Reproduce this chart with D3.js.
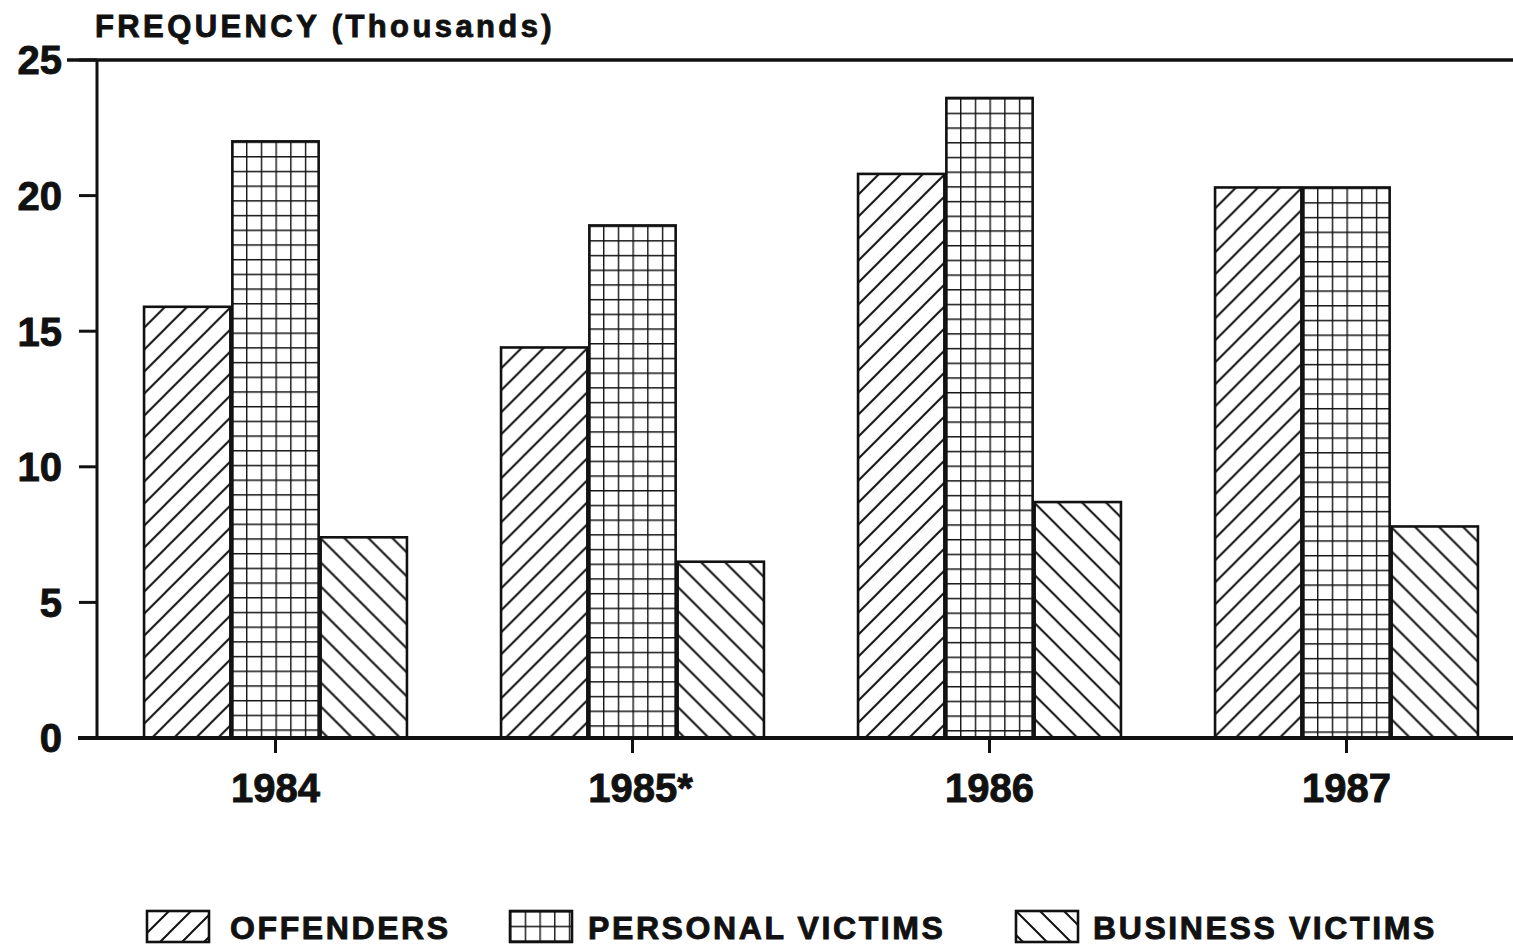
<!DOCTYPE html>
<html>
<head>
<meta charset="utf-8">
<script src="https://cdn.jsdelivr.net/npm/d3@7"></script>
<style>
	body { margin: 0; background: #fff; }
	text { font-family: 'Liberation Sans', Arial, sans-serif; font-weight: bold; fill: #111; stroke: #111; stroke-width: 0.9; }
</style>
</head>
<body>
<svg id="canvas" width="1513" height="948"></svg>
<script>
var years = ['1984', '1985*', '1986', '1987'];
var seriesNames = ['OFFENDERS', 'PERSONAL VICTIMS', 'BUSINESS VICTIMS'];
var offenders = [15.9, 14.4, 20.8, 20.3];
var personalVictims = [22.0, 18.9, 23.6, 20.3];
var businessVictims = [7.4, 6.5, 8.7, 7.8];
var yTicks = [0, 5, 10, 15, 20, 25];

var svg = d3.select('#canvas');
var defs = svg.append('defs');

var x0 = d3.scaleBand().domain(years).range([97, 1525]).paddingInner(0.258).paddingOuter(0.129);
var x1 = d3.scaleBand().domain(seriesNames).range([0, x0.bandwidth()]);
var y = d3.scaleLinear().domain([0, 25]).range([738, 60]);

var fills = ['slash', 'grid', 'back'];
var values = [offenders, personalVictims, businessVictims];

// one pattern per bar so the hatching starts at the bar corner
function makePattern(id, kind, px, py){
	var p, s;
	if (kind == 'grid') {
		s = 14.7;
		p = defs.append('pattern').attr('id', id).attr('patternUnits', 'userSpaceOnUse')
			.attr('x', px).attr('y', py).attr('width', s).attr('height', s);
		p.append('rect').attr('width', s).attr('height', s).attr('fill', '#fff');
		p.append('path').attr('d', 'M 0 0 H ' + s + ' M 0 0 V ' + s)
			.attr('stroke', '#111').attr('stroke-width', 2.8).attr('fill', 'none');
	} else {
		s = kind == 'slash' ? 22 : 24;
		p = defs.append('pattern').attr('id', id).attr('patternUnits', 'userSpaceOnUse')
			.attr('x', px).attr('y', py).attr('width', s).attr('height', s);
		p.append('rect').attr('width', s).attr('height', s).attr('fill', '#fff');
		var d = kind == 'slash'
			? 'M 0 ' + s + ' L ' + s + ' 0 M ' + (-s / 2) + ' ' + (s / 2) + ' L ' + (s / 2) + ' ' + (-s / 2) + ' M ' + (s / 2) + ' ' + (s * 1.5) + ' L ' + (s * 1.5) + ' ' + (s / 2)
			: 'M 0 0 L ' + s + ' ' + s + ' M ' + (-s / 2) + ' ' + (s / 2) + ' L ' + (s / 2) + ' ' + (s * 1.5) + ' M ' + (s / 2) + ' ' + (-s / 2) + ' L ' + (s * 1.5) + ' ' + (s / 2);
		p.append('path').attr('d', d).attr('stroke', '#111').attr('stroke-width', 2).attr('fill', 'none');
	}
}

// bars
years.forEach(function(yr, i){
	seriesNames.forEach(function(name, j){
		var bx = x0(yr) + x1(name);
		var by = y(values[j][i]);
		var id = 'pat-' + i + '-' + j;
		makePattern(id, fills[j], bx, by);
		svg.append('rect')
			.attr('x', bx + 1)
			.attr('y', by)
			.attr('width', x1.bandwidth() - 2)
			.attr('height', y(0) - by)
			.attr('fill', 'url(#' + id + ')')
			.attr('stroke', '#111')
			.attr('stroke-width', 2.6);
	});
});

// axes frame
svg.append('line').attr('x1', 67).attr('x2', 1513).attr('y1', y(25)).attr('y2', y(25))
	.attr('stroke', '#111').attr('stroke-width', 3.5);
svg.append('line').attr('x1', 97).attr('x2', 97).attr('y1', y(25)).attr('y2', y(0))
	.attr('stroke', '#111').attr('stroke-width', 3);
svg.append('line').attr('x1', 78).attr('x2', 1513).attr('y1', y(0)).attr('y2', y(0))
	.attr('stroke', '#111').attr('stroke-width', 4);

yTicks.forEach(function(t){
	svg.append('line').attr('x1', 79).attr('x2', 97).attr('y1', y(t)).attr('y2', y(t))
		.attr('stroke', '#111').attr('stroke-width', 3);
	svg.append('text').attr('x', 62).attr('y', y(t)).attr('dy', '0.36em')
		.attr('text-anchor', 'end').attr('font-size', 40).text(t);
});

years.forEach(function(yr){
	var cx = x0(yr) + x0.bandwidth() / 2;
	svg.append('line').attr('x1', cx).attr('x2', cx).attr('y1', y(0)).attr('y2', y(0) + 15)
		.attr('stroke', '#111').attr('stroke-width', 3);
	svg.append('text').attr('x', cx + (yr.length > 4 ? 8 : 0)).attr('y', 802)
		.attr('text-anchor', 'middle').attr('font-size', 40).text(yr);
});

svg.append('text').attr('x', 95).attr('y', 37).attr('font-size', 31)
	.attr('letter-spacing', 3.4).text('FREQUENCY (Thousands)');

// legend
var legendX = [147, 510, 1016];
var legendText = [230, 588, 1093];
seriesNames.forEach(function(name, j){
	var id = 'leg-' + j;
	makePattern(id, fills[j], legendX[j], 911);
	svg.append('rect').attr('x', legendX[j]).attr('y', 911).attr('width', 62).attr('height', 31)
		.attr('fill', 'url(#' + id + ')').attr('stroke', '#111').attr('stroke-width', 2.6);
	svg.append('text').attr('x', legendText[j]).attr('y', 939).attr('font-size', 32)
		.attr('letter-spacing', 2.6).text(name);
});
</script>
</body>
</html>
